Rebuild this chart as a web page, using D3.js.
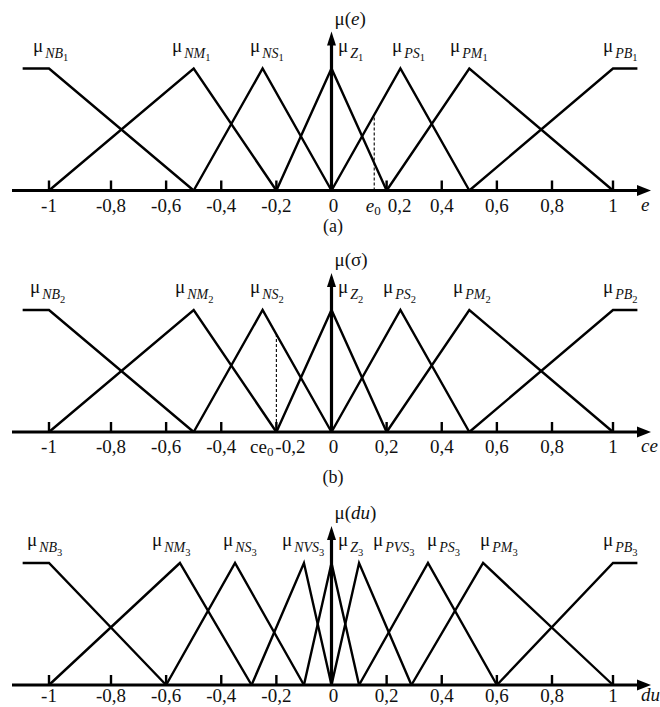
<!DOCTYPE html>
<html>
<head>
<meta charset="UTF-8" />
<title>Membership functions</title>
<script src="https://cdn.jsdelivr.net/npm/d3@7/dist/d3.min.js"></script>
<style>
  html, body { margin: 0; padding: 0; background: #fff; }
  svg { display: block; font-family: "Liberation Serif", "Times New Roman", Times, serif; }
</style>
</head>
<body>
<div id="chart"></div>
<script>
// ---- data ----
const tickValues = [-1, -0.8, -0.6, -0.4, -0.2, 0, 0.2, 0.4, 0.6, 0.8, 1];
const tickLabels = ["-1", "-0,8", "-0,6", "-0,4", "-0,2", "0", "0,2", "0,4", "0,6", "0,8", "1"];

// panel (a): error e
const names1 = ["NB", "NM", "NS", "Z", "PS", "PM", "PB"];
const points1 = [
  [[-1.085, 1], [-1, 1], [-0.5, 0]],
  [[-1, 0], [-0.5, 1], [-0.2, 0]],
  [[-0.5, 0], [-0.25, 1], [0, 0]],
  [[-0.2, 0], [0, 1], [0.2, 0]],
  [[0, 0], [0.25, 1], [0.5, 0]],
  [[0.2, 0], [0.5, 1], [1, 0]],
  [[0.5, 0], [1, 1], [1.08, 1]]
];

// panel (b): ce
const names2 = ["NB", "NM", "NS", "Z", "PS", "PM", "PB"];
const points2 = [
  [[-1.085, 1], [-1, 1], [-0.5, 0]],
  [[-1, 0], [-0.5, 1], [-0.2, 0]],
  [[-0.5, 0], [-0.25, 1], [0, 0]],
  [[-0.2, 0], [0, 1], [0.2, 0]],
  [[0, 0], [0.25, 1], [0.5, 0]],
  [[0.2, 0], [0.5, 1], [1, 0]],
  [[0.5, 0], [1, 1], [1.08, 1]]
];

// panel (c): du
const names3 = ["NB", "NM", "NS", "NVS", "Z", "PVS", "PS", "PM", "PB"];
const points3 = [
  [[-1.085, 1], [-1, 1], [-0.6, 0]],
  [[-1, 0], [-0.55, 1], [-0.29, 0]],
  [[-0.6, 0], [-0.35, 1], [-0.1, 0]],
  [[-0.29, 0], [-0.1, 1], [0, 0]],
  [[-0.1, 0], [0, 1], [0.1, 0]],
  [[0, 0], [0.1, 1], [0.29, 0]],
  [[0.1, 0], [0.35, 1], [0.6, 0]],
  [[0.29, 0], [0.55, 1], [1, 0]],
  [[0.6, 0], [1, 1], [1.08, 1]]
];

const e0 = 0.155;   // dashed marker in (a), on PS1
const ce0 = -0.2;   // dashed marker in (b), on NS2

// ---- layout ----
const W = 660, H = 707;
const svg = d3.select("#chart").append("svg").attr("width", W).attr("height", H);

// piecewise axis (outer ticks are spaced a little wider in the figure)
const x = d3.scaleLinear().domain([-1, -0.8, 0.8, 1]).range([49, 111, 552, 613]);

const panels = [
  { base: 190.5, names: names1, points: points1, idx: "1", tickDy: 21,
    labelX: [33, 172, 250, 338, 392, 450, 603],
    yTitle: ["μ(", "e", ")"], xTitle: "e", caption: "(a)", captionY: 232 },
  { base: 432, names: names2, points: points2, idx: "2", tickDy: 21,
    labelX: [30, 175, 250, 338, 383, 453, 603],
    yTitle: ["μ(σ)", "", ""], xTitle: "ce", caption: "(b)", captionY: 483 },
  { base: 685, names: names3, points: points3, idx: "3", tickDy: 17,
    labelX: [27, 152, 223, 282, 338, 373, 427, 480, 603],
    yTitle: ["μ(", "du", ")"], xTitle: "du", caption: null }
];

const line = d3.line();

panels.forEach((p, pi) => {
  const y = d3.scaleLinear().domain([0, 1]).range([p.base, p.base - 122]);
  const g = svg.append("g");

  // membership functions
  g.selectAll("path.mf").data(p.points).enter().append("path")
    .attr("class", "mf")
    .attr("d", d => line(d.map(q => [x(q[0]), y(q[1])])))
    .attr("fill", "none").attr("stroke", "#000")
    .attr("stroke-width", 2.4).attr("stroke-linejoin", "miter");

  // horizontal axis with arrow
  g.append("line").attr("x1", 12).attr("x2", 640)
    .attr("y1", p.base).attr("y2", p.base)
    .attr("stroke", "#000").attr("stroke-width", 3);
  g.append("path")
    .attr("d", `M651,${p.base}L637,${p.base - 5.5}L637,${p.base + 5.5}Z`)
    .attr("fill", "#000");

  // vertical axis with arrow
  const x0 = x(0);
  g.append("line").attr("x1", x0).attr("x2", x0)
    .attr("y1", p.base).attr("y2", p.base - 146)
    .attr("stroke", "#000").attr("stroke-width", 3.2);
  g.append("path")
    .attr("d", `M${x0},${p.base - 159}L${x0 - 4.5},${p.base - 145}L${x0 + 4.5},${p.base - 145}Z`)
    .attr("fill", "#000");

  // ticks
  g.selectAll("line.tick").data(tickValues.filter(v => v !== 0)).enter().append("line")
    .attr("class", "tick")
    .attr("x1", d => x(d)).attr("x2", d => x(d))
    .attr("y1", p.base).attr("y2", p.base - 10)
    .attr("stroke", "#000").attr("stroke-width", 2.4);

  // tick labels
  g.selectAll("text.tl").data(tickValues).enter().append("text")
    .attr("class", "tl")
    .attr("x", d => {
      let cx = x(d) + (d === 0 ? 2 : 0);
      if (pi === 0 && d === 0.2) cx += 13;
      if (pi === 1 && d === -0.2) cx += 14;
      return cx;
    })
    .attr("y", p.base + p.tickDy)
    .attr("text-anchor", "middle")
    .attr("font-size", 19).attr("fill", "#111")
    .text((d, i) => tickLabels[i]);

  // x axis title
  g.append("text").attr("x", 641).attr("y", p.base + p.tickDy - 1)
    .attr("font-size", 19).attr("font-style", "italic").attr("fill", "#111")
    .text(p.xTitle);

  // y axis title
  const yt = g.append("text").attr("x", x0 + 3).attr("y", p.base - 166)
    .attr("font-size", 19).attr("fill", "#111");
  yt.append("tspan").text(p.yTitle[0]);
  if (p.yTitle[1]) {
    yt.append("tspan").attr("font-style", "italic").text(p.yTitle[1]);
    yt.append("tspan").text(p.yTitle[2]);
  }

  // membership labels
  p.names.forEach((n, i) => {
    const t = g.append("text").attr("x", p.labelX[i]).attr("y", p.base - 139)
      .attr("fill", "#111");
    t.append("tspan").attr("font-size", 19).text("μ");
    t.append("tspan").attr("dx", 2).attr("dy", 6).attr("font-size", 14)
      .attr("font-style", "italic").text(n);
    t.append("tspan").attr("dy", 3.5).attr("font-size", 10.5).text(p.idx);
  });

  if (p.caption) {
    g.append("text").attr("x", 333).attr("y", p.captionY)
      .attr("text-anchor", "middle").attr("font-size", 18).attr("fill", "#111")
      .text(p.caption);
  }

  // dashed markers
  if (pi === 0) {
    const ps = points1[4];
    const mu = d3.scaleLinear().domain(ps.map(q => q[0])).range(ps.map(q => q[1]))(e0);
    g.append("line").attr("x1", x(e0)).attr("x2", x(e0))
      .attr("y1", p.base).attr("y2", y(mu))
      .attr("stroke", "#000").attr("stroke-width", 1.1).attr("stroke-dasharray", "3,2");
    const t = g.append("text").attr("x", x(e0) - 1).attr("y", p.base + 21)
      .attr("text-anchor", "middle").attr("fill", "#111");
    t.append("tspan").attr("font-size", 19).attr("font-style", "italic").text("e");
    t.append("tspan").attr("font-size", 13).attr("dy", 3).text("0");
  }
  if (pi === 1) {
    const ns = points2[2];
    const mu = d3.scaleLinear().domain(ns.map(q => q[0])).range(ns.map(q => q[1]))(ce0);
    g.append("line").attr("x1", x(ce0)).attr("x2", x(ce0))
      .attr("y1", p.base).attr("y2", y(mu))
      .attr("stroke", "#000").attr("stroke-width", 1.1).attr("stroke-dasharray", "3,2");
    const t = g.append("text").attr("x", x(ce0) - 3).attr("y", p.base + 21)
      .attr("text-anchor", "end").attr("fill", "#111");
    t.append("tspan").attr("font-size", 19).text("ce");
    t.append("tspan").attr("font-size", 13).attr("dy", 3).text("0");
  }
});
</script>
</body>
</html>
